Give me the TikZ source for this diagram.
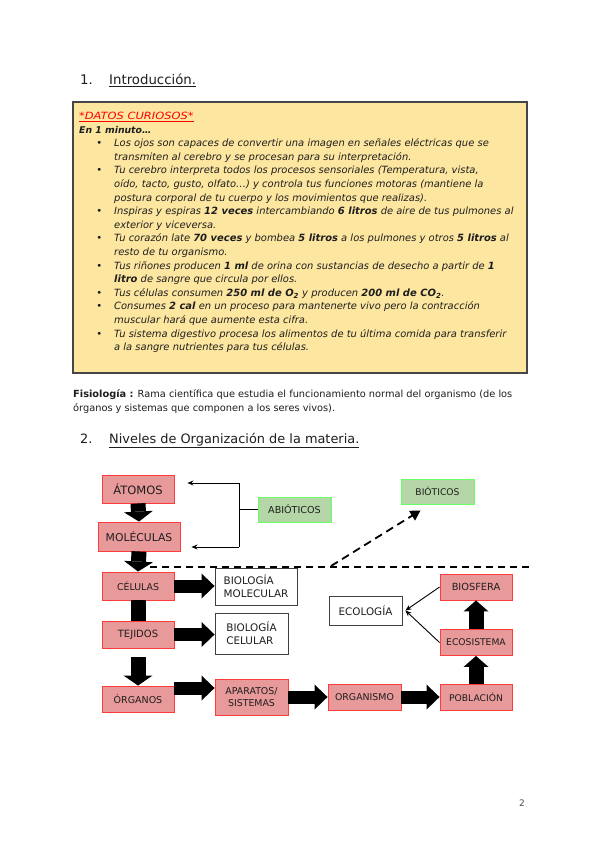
\documentclass[tikz,border=0pt]{standalone}
\usepackage{fontspec}
\setmainfont{DejaVu Sans}
\usetikzlibrary{arrows.meta}
\definecolor{redfill}{RGB}{232,153,154}
\definecolor{redline}{RGB}{255,60,60}
\definecolor{greenfill}{RGB}{181,214,167}
\definecolor{greenline}{RGB}{102,255,102}
\definecolor{yellowfill}{RGB}{253,230,160}
\definecolor{boxline}{RGB}{70,70,70}
\definecolor{txtgray}{RGB}{30,30,30}
\newcommand\lblsz[1]{\fontsize{#1}{#1}\selectfont}
\newcommand\bul{\makebox[0pt][r]{\textbullet\hspace{12pt}}}
\begin{document}
\begin{tikzpicture}[x=1pt,y=-1pt,
  txt/.style={anchor=base west,inner sep=0pt,font=\fontsize{9.95}{11}\selectfont\itshape,text=txtgray},
  ptxt/.style={anchor=base west,inner sep=0pt,font=\fontsize{9.8}{11}\selectfont,text=txtgray},
  head/.style={anchor=base west,inner sep=0pt,font=\fontsize{13.3}{15}\selectfont,text=txtgray},
  redbox/.style={draw=redline,fill=redfill,line width=0.9pt,inner sep=0pt,text=txtgray},
  greenbox/.style={draw=greenline,fill=greenfill,line width=0.9pt,inner sep=0pt,text=txtgray},
  whitebox/.style={draw=black!75,fill=white,line width=0.9pt,inner sep=0pt,align=left,text=txtgray},
  vdown/.style={line width=15pt,-{Triangle[width=29pt,length=10pt,line width=0pt]}},
  hright/.style={line width=13pt,-{Triangle[width=25pt,length=13pt,line width=0pt]}},
  vup/.style={line width=15pt,-{Triangle[width=25pt,length=11pt,line width=0pt]}},
  thin/.style={line width=0.9pt,-{Stealth[length=6pt,width=5pt]}},
]
\useasboundingbox (0,0) rectangle (600,848);
\fill[white] (0,0) rectangle (600,848);

% Section 1 heading
\node[head] (h1n) at (80,85) {1.};
\node[head] (h1t) at (109,85) {\underline{Introducción.}};

% Yellow box
\node[draw=boxline,fill=yellowfill,line width=1.2pt,minimum width=454pt,minimum height=271pt,inner sep=0pt] (databox) at (300,237.5) {};

\node[txt] (l1) at (79,119.5) {\color{red}\underline{\scalebox{1.15}[1]{*DATOS CURIOSOS*}}};
\node[txt,font=\fontsize{9.3}{11}\selectfont\itshape] (l2) at (79,133.1) {\textbf{En 1 minuto…}};
\node[txt] (l3) at (114,146.7) {\bul Los ojos son capaces de convertir una imagen en señales eléctricas que se};
\node[txt] (l4) at (114,160.3) {transmiten al cerebro y se procesan para su interpretación.};
\node[txt] (l5) at (114,173.9) {\bul Tu cerebro interpreta todos los procesos sensoriales (Temperatura, vista,};
\node[txt] (l6) at (114,187.5) {oído, tacto, gusto, olfato…) y controla tus funciones motoras (mantiene la};
\node[txt] (l7) at (114,201.1) {postura corporal de tu cuerpo y los movimientos que realizas).};
\node[txt] (l8) at (114,214.7) {\bul Inspiras y espiras \textbf{12 veces} intercambiando \textbf{6 litros} de aire de tus pulmones al};
\node[txt] (l9) at (114,228.3) {exterior y viceversa.};
\node[txt] (l10) at (114,241.9) {\bul Tu corazón late \textbf{70 veces} y bombea \textbf{5 litros} a los pulmones y otros \textbf{5 litros} al};
\node[txt] (l11) at (114,255.5) {resto de tu organismo.};
\node[txt] (l12) at (114,269.1) {\bul Tus riñones producen \textbf{1 ml} de orina con sustancias de desecho a partir de \textbf{1}};
\node[txt] (l13) at (114,282.7) {\textbf{litro} de sangre que circula por ellos.};
\node[txt] (l14) at (114,296.3) {\bul Tus células consumen \textbf{250 ml de O\textsubscript{2}} y producen \textbf{200 ml de CO\textsubscript{2}}.};
\node[txt] (l15) at (114,309.9) {\bul Consumes \textbf{2 cal} en un proceso para mantenerte vivo pero la contracción};
\node[txt] (l16) at (114,323.5) {muscular hará que aumente esta cifra.};
\node[txt] (l17) at (114,337.1) {\bul Tu sistema digestivo procesa los alimentos de tu última comida para transferir};
\node[txt] (l18) at (114,350.7) {a la sangre nutrientes para tus células.};

% Fisiologia
\node[ptxt] (f1) at (73,397.5) {\textbf{Fisiología :} Rama científica que estudia el funcionamiento normal del organismo (de los};
\node[ptxt] (f2) at (73,411.5) {órganos y sistemas que componen a los seres vivos).};

% Section 2 heading
\node[head,font=\fontsize{12.9}{15}\selectfont] (h2n) at (80,443) {2.};
\node[head,font=\fontsize{12.9}{15}\selectfont] (h2t) at (109,443) {\underline{Niveles de Organización de la materia.}};

% Diagram nodes
\node[redbox,minimum width=72pt,minimum height=28pt,font=\lblsz{11.5}] (atomos) at (138,489) {ÁTOMOS};
\node[redbox,minimum width=82pt,minimum height=29pt,font=\lblsz{10.8}] (moleculas) at (139,536.5) {MOLÉCULAS};
\node[redbox,minimum width=72pt,minimum height=28pt,font=\lblsz{9.4}] (celulas) at (138,586) {CÉLULAS};
\node[redbox,minimum width=72pt,minimum height=27pt,font=\lblsz{10}] (tejidos) at (138,634.5) {TEJIDOS};
\node[redbox,minimum width=72pt,minimum height=26pt,font=\lblsz{9.5}] (organos) at (138,699) {ÓRGANOS};
\node[greenbox,minimum width=73pt,minimum height=25pt,font=\lblsz{9.6}] (abioticos) at (294.5,509.5) {ABIÓTICOS};
\node[greenbox,minimum width=73pt,minimum height=25pt,font=\lblsz{9.2}] (bioticos) at (437.5,491.5) {BIÓTICOS};
\node[whitebox,minimum width=82pt,minimum height=37pt,font=\fontsize{10.4}{13}\selectfont] (biomol) at (256,586.5) {BIOLOGÍA\\MOLECULAR};
\node[whitebox,minimum width=73pt,minimum height=41pt,font=\fontsize{10.4}{13}\selectfont] (biocel) at (251.5,633.5) {BIOLOGÍA\\CELULAR};
\node[redbox,minimum width=73pt,minimum height=36pt,align=center,font=\fontsize{9.4}{12}\selectfont] (aparatos) at (251.5,697) {APARATOS/\\SISTEMAS};
\node[redbox,minimum width=73pt,minimum height=26pt,font=\lblsz{9.4}] (organismo) at (364.5,697) {ORGANISMO};
\node[redbox,minimum width=72pt,minimum height=26pt,font=\lblsz{9.2}] (poblacion) at (476,697) {POBLACIÓN};
\node[redbox,minimum width=72pt,minimum height=26pt,font=\lblsz{9.2}] (ecosistema) at (476,642.5) {ECOSISTEMA};
\node[redbox,minimum width=72pt,minimum height=26pt,font=\lblsz{9.8}] (biosfera) at (476,587) {BIOSFERA};
\node[whitebox,minimum width=73pt,minimum height=29pt,font=\lblsz{10.4}] (ecologia) at (365.5,610.5) {ECOLOGÍA};

% Big arrows
\draw[vdown] (atomos.south) -- (moleculas.north);
\draw[vdown] (moleculas.south) -- (celulas.north);
\draw[line width=15pt] (celulas.south) -- (tejidos.north);
\draw[vdown,shorten <=9pt] (tejidos.south) -- (organos.north);
\draw[hright] (celulas.east) -- (celulas.east -| biomol.west);
\draw[hright] (tejidos.east) -- (tejidos.east -| biocel.west);
\draw[hright] ([yshift=11pt]organos.east) -- ([yshift=11pt]organos.east -| aparatos.west);
\draw[hright] (aparatos.east) -- (organismo.west);
\draw[hright] (organismo.east) -- (poblacion.west);
\draw[vup] (poblacion.north) -- (ecosistema.south);
\draw[vup] (ecosistema.north) -- (biosfera.south);

% Thin arrows to Ecologia
\draw[thin] (biosfera.west) -- ([xshift=3pt]ecologia.east);
\draw[thin] (ecosistema.west) -- ([xshift=3pt]ecologia.east);

% Abioticos bracket
\coordinate (bt) at (239,483);
\coordinate (bb) at (239,547);
\draw[line width=0.9pt] (abioticos.west) -- (abioticos.west -| bt);
\draw[line width=0.9pt] (bt) -- (bb);
\draw[thin] (bt) -- ([xshift=13pt]atomos.east |- bt);
\draw[thin] (bb) -- ([xshift=11pt]moleculas.east |- bb);

% Dashed separation line and arrow to Bioticos
\coordinate (dl) at (150,567);
\coordinate (dr) at (530,567);
\coordinate (ds) at (331,566);
\draw[line width=1.6pt,dash pattern=on 7pt off 5pt] (dl) -- (dr);
\draw[line width=1.8pt,dash pattern=on 8pt off 5pt,-{Triangle[width=11pt,length=10pt]}] (ds) -- ([xshift=-17pt,yshift=-6pt]bioticos.south);

% page number
\node[anchor=base west,inner sep=0pt,font=\fontsize{9}{11}\selectfont,text=black!70] (pnum) at (519,806.5) {2};
\end{tikzpicture}
\end{document}
